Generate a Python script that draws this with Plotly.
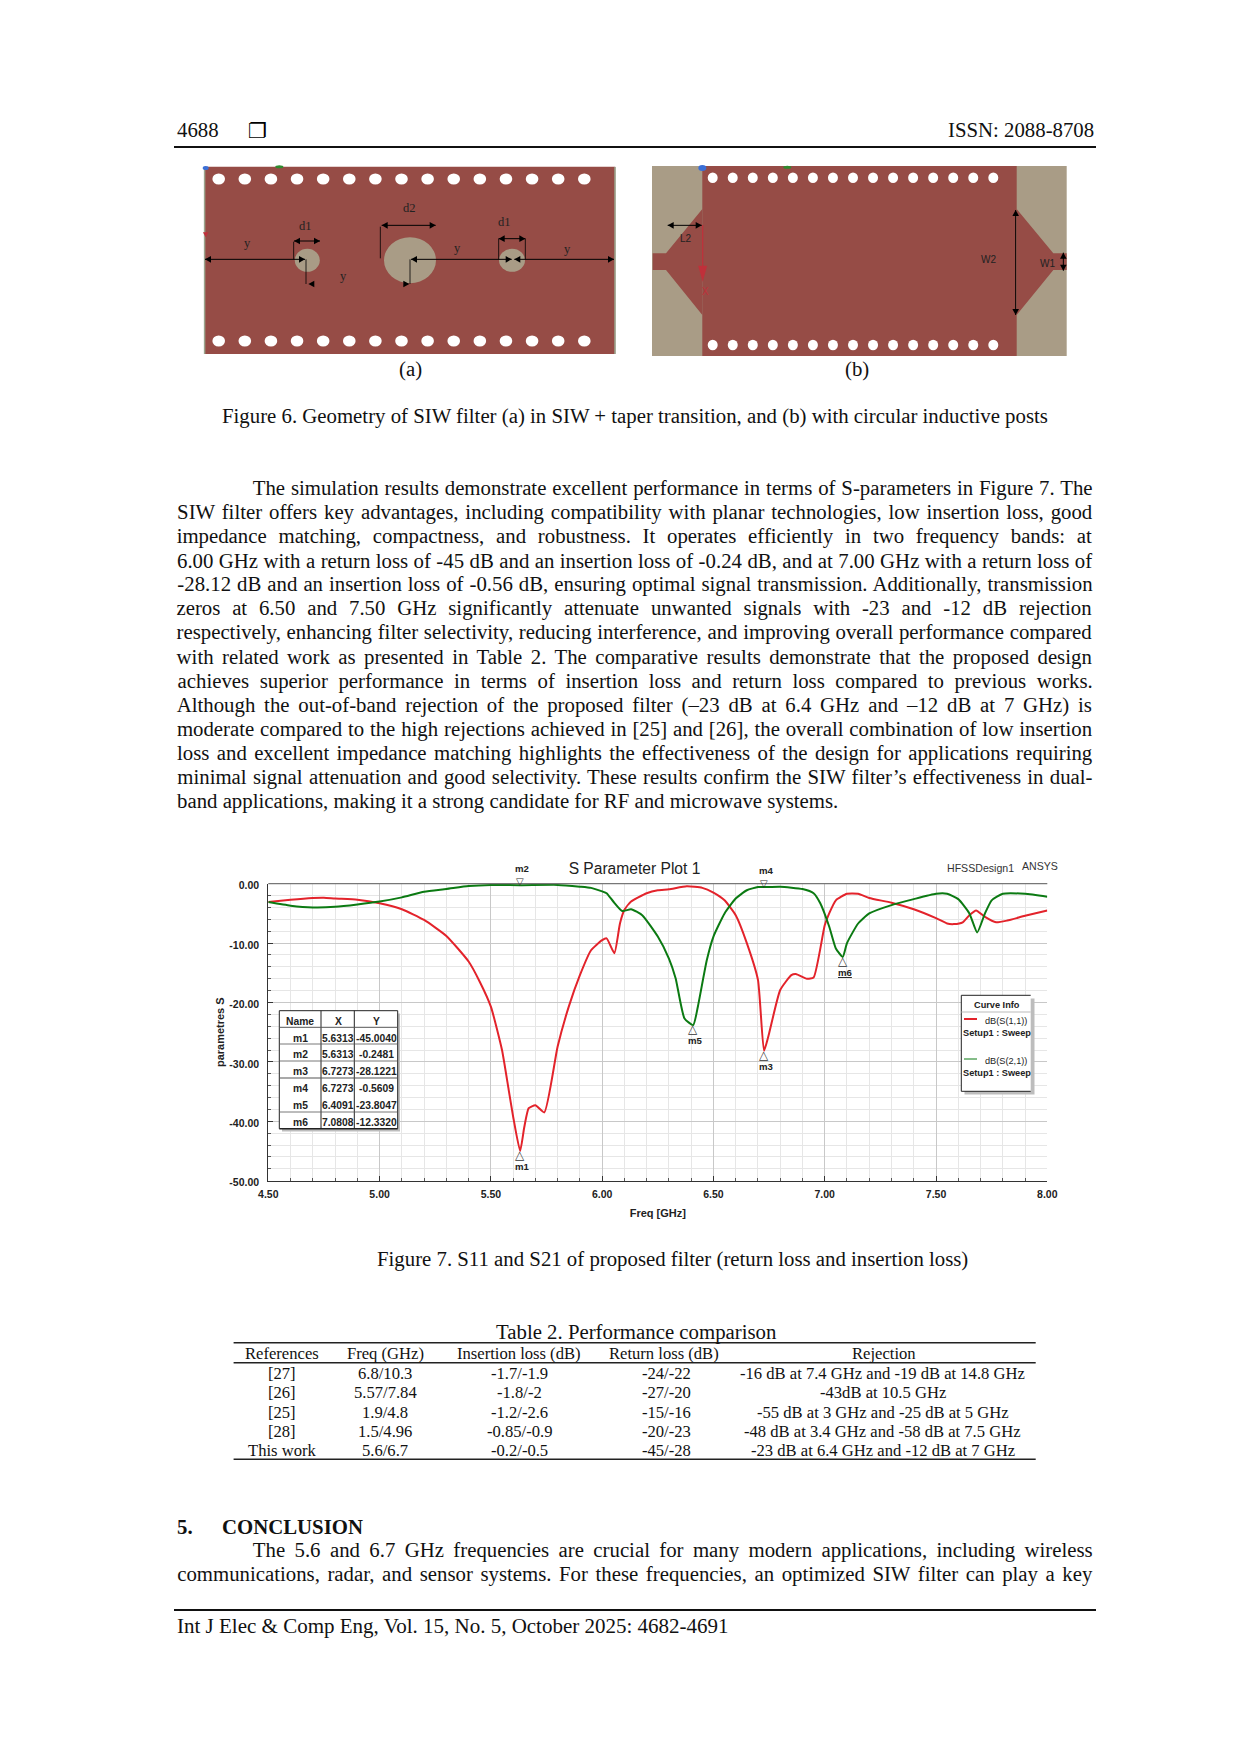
import json
import plotly.graph_objects as go

W = 1240
H = 1754

# curve values
freq_s11 = [4.5, 4.6, 4.7, 4.75, 4.8, 4.9, 5.0, 5.1, 5.2, 5.3, 5.4, 5.45, 5.5, 5.55, 5.58, 5.6, 5.6313, 5.65, 5.67,
            5.7, 5.74, 5.8, 5.85, 5.9, 5.95, 6.0, 6.02, 6.055, 6.08, 6.1, 6.13, 6.2, 6.25, 6.3, 6.38, 6.45, 6.5,
            6.55, 6.6, 6.65, 6.7, 6.7273, 6.75, 6.8, 6.85, 6.87, 6.92, 6.95, 7.0, 7.02, 7.05, 7.1, 7.15, 7.2, 7.3,
            7.4, 7.5, 7.55, 7.58, 7.62, 7.65, 7.68, 7.72, 7.77, 7.82, 7.9, 8.0]
s11 = [-3.1, -2.7, -2.4, -2.35, -2.5, -2.7, -3.3, -4.3, -6.1, -8.8, -13.1, -16.5, -20.7, -28.0, -34.7, -39.2, -45.0,
       -41.0, -37.8, -37.3, -38.5, -27.4, -20.7, -15.4, -11.2, -9.5, -9.2, -11.7, -6.7, -4.4, -3.0, -1.6, -1.1, -0.95,
       -0.45, -0.7, -1.5, -2.8, -5.3, -10.0, -16.2, -28.12, -25.2, -17.9, -15.4, -15.2, -16.0, -15.8, -7.0, -5.0,
       -2.8, -1.7, -1.7, -2.4, -3.2, -4.3, -5.8, -6.7, -6.8, -6.5, -5.3, -4.5, -5.6, -6.5, -6.2, -5.4, -4.5]
freq_s21 = [4.5, 4.6, 4.7, 4.8, 4.9, 5.0, 5.1, 5.2, 5.3, 5.4, 5.5, 5.6313, 5.8, 5.9, 5.95, 6.0, 6.02, 6.05, 6.09, 6.13,
            6.18, 6.25, 6.3, 6.33, 6.37, 6.4091, 6.43, 6.47, 6.5, 6.55, 6.6, 6.65, 6.7, 6.7273, 6.8, 6.9, 6.95, 6.98,
            7.02, 7.05, 7.0808, 7.1, 7.15, 7.2, 7.3, 7.4, 7.5, 7.55, 7.6, 7.65, 7.685, 7.72, 7.75, 7.8, 7.9, 8.0]
s21 = [-3.1, -3.7, -4.0, -3.9, -3.5, -3.0, -2.3, -1.35, -0.9, -0.4, -0.2, -0.25, -0.2, -0.5, -0.7, -1.3, -1.6, -3.0,
       -4.6, -4.3, -5.3, -8.9, -12.6, -15.9, -22.7, -23.8, -20.7, -12.9, -8.9, -5.0, -2.5, -1.1, -0.56, -0.56, -0.5,
       -0.9, -1.6, -3.3, -7.2, -10.9, -12.33, -10.0, -6.7, -5.0, -3.6, -2.6, -1.7, -1.7, -2.6, -5.0, -8.2, -5.0, -2.8,
       -1.7, -1.7, -2.2]

y_ticks = [0, -10, -20, -30, -40, -50]
y_tick_labels = ["0.00", "-10.00", "-20.00", "-30.00", "-40.00", "-50.00"]

# marker readout
marker_names = ["m1", "m2", "m3", "m4", "m5", "m6"]
marker_x = ["5.6313", "5.6313", "6.7273", "6.7273", "6.4091", "7.0808"]
marker_y = ["-45.0040", "-0.2481", "-28.1221", "-0.5609", "-23.8047", "-12.3320"]
marker_up = [False, True, False, True, False, False]

# performance table
table_title = "Table 2. Performance comparison"
table_head = ["References", "Freq (GHz)", "Insertion loss (dB)", "Return loss (dB)", "Rejection"]
table_refs = ["[27]", "[26]", "[25]", "[28]", "This work"]
table_freq = ["6.8/10.3", "5.57/7.84", "1.9/4.8", "1.5/4.96", "5.6/6.7"]
table_il = ["-1.7/-1.9", "-1.8/-2", "-1.2/-2.6", "-0.85/-0.9", "-0.2/-0.5"]
table_rl = ["-24/-22", "-27/-20", "-15/-16", "-20/-23", "-45/-28"]
table_rej = ["-16 dB at 7.4 GHz and -19 dB at 14.8 GHz", "-43dB at 10.5 GHz", "-55 dB at 3 GHz and -25 dB at 5 GHz",
             "-48 dB at 3.4 GHz and -58 dB at 7.5 GHz", "-23 dB at 6.4 GHz and -12 dB at 7 GHz"]

body_lines = [
    "The simulation results demonstrate excellent performance in terms of S-parameters in Figure 7. The",
    "SIW filter offers key advantages, including compatibility with planar technologies, low insertion loss, good",
    "impedance matching, compactness, and robustness. It operates efficiently in two frequency bands: at",
    "6.00 GHz with a return loss of -45 dB and an insertion loss of -0.24 dB, and at 7.00 GHz with a return loss of",
    "-28.12 dB and an insertion loss of -0.56 dB, ensuring optimal signal transmission. Additionally, transmission",
    "zeros at 6.50 and 7.50 GHz significantly attenuate unwanted signals with -23 and -12 dB rejection",
    "respectively, enhancing filter selectivity, reducing interference, and improving overall performance compared",
    "with related work as presented in Table 2. The comparative results demonstrate that the proposed design",
    "achieves superior performance in terms of insertion loss and return loss compared to previous works.",
    "Although the out-of-band rejection of the proposed filter (–23 dB at 6.4 GHz and –12 dB at 7 GHz) is",
    "moderate compared to the high rejections achieved in [25] and [26], the overall combination of low insertion",
    "loss and excellent impedance matching highlights the effectiveness of the design for applications requiring",
    "minimal signal attenuation and good selectivity. These results confirm the SIW filter’s effectiveness in dual-",
    "band applications, making it a strong candidate for RF and microwave systems.",
]
conclusion_lines = [
    "The 5.6 and 6.7 GHz frequencies are crucial for many modern applications, including wireless",
    "communications, radar, and sensor systems. For these frequencies, an optimized SIW filter can play a key",
]

SERIF = "Liberation Serif"
SANS = "Liberation Sans"
RED = "#E3232B"
GREEN = "#0B7A12"
COPPER = "#964C46"
SAND = "#A99C86"

shapes = []
annos = []
justify = {}


def px(x):
    return x / W


def py(y):
    return 1 - y / H


def text(x, y, s, size=20.8, font=SERIF, color="#111111", anchor="center", angle=0):
    annos.append(dict(x=px(x), y=py(y), xref="paper", yref="paper", text=s, showarrow=False, xanchor=anchor,
                      yanchor="middle", textangle=angle, font=dict(family=font, size=size, color=color),
                      borderpad=0, borderwidth=0))


def line(x0, y0, x1, y1, color="black", width=1):
    shapes.append(dict(type="line", x0=px(x0), y0=py(y0), x1=px(x1), y1=py(y1), xref="paper", yref="paper",
                       line=dict(color=color, width=width)))


def rect(x0, y0, x1, y1, fill, border=None, width=1):
    shapes.append(dict(type="rect", x0=px(x0), y0=py(y0), x1=px(x1), y1=py(y1), xref="paper", yref="paper",
                       fillcolor=fill, line=dict(color=border or fill, width=width if border else 0)))


def circle(cx, cy, rx, ry, fill):
    shapes.append(dict(type="circle", x0=px(cx - rx), y0=py(cy - ry), x1=px(cx + rx), y1=py(cy + ry), xref="paper",
                       yref="paper", fillcolor=fill, line=dict(width=0)))


def poly(points, fill):
    path = "M " + " L ".join("%.5f %.5f" % (px(a), py(b)) for a, b in points) + " Z"
    shapes.append(dict(type="path", path=path, xref="paper", yref="paper", fillcolor=fill, line=dict(width=0)))


def tip(x, y, dx, dy, color="black", size=6, ratio=0.55):
    # small arrow head, point at x,y looking along dx,dy
    poly([(x, y), (x - dx * size - dy * size * ratio, y - dy * size - dx * size * ratio),
          (x - dx * size + dy * size * ratio, y - dy * size + dx * size * ratio)], color)


def dim(x0, y0, x1, y1, color="black"):
    # dimension line with a head on both ends
    line(x0, y0, x1, y1, color)
    dx = (x1 > x0) - (x1 < x0)
    dy = (y1 > y0) - (y1 < y0)
    tip(x1, y1, dx, dy, color)
    tip(x0, y0, -dx, -dy, color)


def za(x, y):
    return 160 + x / 3, 100 + y / 3


def zb(x, y):
    return 630 + x / 3, 100 + y / 3


# page header / footer
text(177, 130, "4688", anchor="left")
text(257, 131, "❐", size=21, font="DejaVu Sans", color="black")
text(1094, 130, "ISSN: 2088-8708", anchor="right")
line(174, 147, 1096, 147, "#111111", 2)
line(174, 1610, 1096, 1610, "#111111", 2)
text(177, 1626, "Int J Elec &amp; Comp Eng, Vol. 15, No. 5, October 2025: 4682-4691", size=21, anchor="left")

# figure 6 (a)
rect(204.3, 166.7, 615.3, 354, COPPER)
line(204.6, 167, 204.6, 354, "#9AA58E", 1.5)
line(615, 167, 615, 354, "#9AA58E", 1.5)
for i in range(15):
    hx = 218.7 + i * (584.3 - 218.7) / 14
    circle(hx, 179, 6.3, 5.6, "white")
    circle(hx, 341, 6.3, 5.6, "white")
circle(307.3, 260.3, 12.5, 11.5, SAND)
circle(410, 260.3, 26, 23, SAND)
circle(512, 260.3, 13, 11.5, SAND)
circle(*za(137, 204), 3, 2, "#3B6FD6")
circle(*za(358, 200), 4, 1.5, "#2E8B2E")
tip(*za(137, 412), 0, 1, "#C0303A", 5)
for a, b in [((135, 478), (435, 478)), ((753, 478), (1055, 478)), ((1063, 478), (1362, 478)),
             ((402, 423), (480, 423)), ((665, 376), (827, 376)), ((1016, 416), (1096, 416))]:
    dim(*za(*a), *za(*b))
for a, b in [((401, 425), (401, 478)), ((661, 380), (661, 475)), ((438, 478), (438, 552)), ((750, 478), (750, 552)),
             ((1016, 416), (1016, 478)), ((1096, 416), (1096, 478))]:
    line(*za(*a), *za(*b), width=0.8)
tip(*za(445, 552), -1, 0)
tip(*za(748, 552), 1, 0)
for lx, ly, s in [(435, 378, "d1"), (747, 323, "d2"), (1033, 365, "d1"), (262, 430, "y"), (549, 527, "y"),
                  (891, 445, "y"), (1223, 447, "y")]:
    text(*za(lx, ly), s, size=12.5, color="#222222")

# figure 6 (b)
rect(652, 166, 1066.7, 356, SAND)
rect(702.3, 166, 1016.7, 356, COPPER)
poly([zb(217, 327), zb(108, 460), zb(68, 460), zb(68, 510), zb(108, 510), zb(217, 645)], COPPER)
poly([zb(1160, 327), zb(1270, 460), zb(1310, 460), zb(1310, 510), zb(1270, 510), zb(1160, 645)], COPPER)
for i in range(15):
    hx = 712.7 + i * (993.3 - 712.7) / 14
    circle(hx, 177.7, 5, 5.3, "white")
    circle(hx, 345, 5, 5.3, "white")
circle(*zb(217, 204), 4, 3, "#3B6FD6")
circle(*zb(472, 202), 4, 1.5, "#2E8B2E")
dim(*zb(113, 376), *zb(215, 376))
line(*zb(218, 375), *zb(218, 520), "#C0303A", 1.2)
tip(*zb(218, 545), 0, 1, "#C0303A", 16, 0.28)
dim(*zb(1157, 330), *zb(1157, 645))
dim(*zb(1300, 458), *zb(1300, 512))
for lx, ly, s in [(168, 415, "L2"), (1075, 478, "W2"), (1253, 490, "W1")]:
    text(*zb(lx, ly), s, size=10, font=SANS, color="#222222")
text(*zb(227, 575), "X", size=10, font=SANS, color="#C0303A")

text(410, 368.5, "(a)")
text(857.3, 368.5, "(b)")
text(635.2, 416, "Figure 6. Geometry of SIW filter (a) in SIW + taper transition, and (b) with circular inductive posts")


# justified paragraphs: browser stretches the word gaps to the column width, see post_script
def paragraph(lines, y_start, left=177.3, right=1092.5, indent=252.7):
    for i, s in enumerate(lines):
        x0 = indent if i == 0 else left
        y = y_start + i * 24.03
        if s.startswith("band applications"):
            text(x0, y, s, anchor="left")
        else:
            text((x0 + right) / 2, y, s)
            justify[len(annos) - 1] = right - x0


paragraph(body_lines, 488.3)
text(672.3, 1259.3, "Figure 7. S11 and S21 of proposed filter (return loss and insertion loss)")

# table 2
text(636, 1331.7, table_title)
line(233.6, 1342.7, 1035.7, 1342.7, "#222222", 1.6)
line(233.6, 1362.7, 1035.7, 1362.7, "#222222", 1.4)
line(233.6, 1459.3, 1035.7, 1459.3, "#222222", 1.6)
table_cols = [table_refs, table_freq, table_il, table_rl, table_rej]
col_x = [282.3, 385, 519.5, 666, 883]
head_x = [281.5, 385.5, 519, 663.5, 883.5]
row_y = [1373.3, 1392.7, 1412.7, 1431.7, 1450.7]
for cx, hx, head, col in zip(col_x, head_x, table_head, table_cols):
    text(hx, 1353.2, head, size=16.6)
    for ry, cell in zip(row_y, col):
        text(cx, ry, cell, size=16.6)

# section 5
text(177.3, 1526, "<b>5.</b>", anchor="left")
text(222.3, 1526, "<b>CONCLUSION</b>", anchor="left")
paragraph(conclusion_lines, 1549.7)

# chart furniture: marker table
rect(282, 1013.5, 400, 1131.5, "#BDBDBD")
rect(279.3, 1010.7, 397.7, 1128.7, "white")
line(279.3, 1010.7, 397.7, 1010.7, "#222222")
line(279.3, 1010.7, 279.3, 1128.7, "#222222")
line(279.3, 1128.7, 397.7, 1128.7, "#222222", 1.5)
line(397.7, 1010.7, 397.7, 1128.7, "#222222")
line(321, 1010.7, 321, 1128.7, "#222222")
line(354.3, 1010.7, 354.3, 1128.7, "#222222")
for ly, lw in [(1027.3, 1), (1044, 0.8), (1061, 0.8), (1078, 1.2), (1112, 0.8)]:
    line(279.3, ly, 397.7, ly, "#555555", lw)
text(300, 1021.3, "<b>Name</b>", size=10.3, font=SANS, color="#222222")
text(338, 1021.3, "<b>X</b>", size=10.3, font=SANS, color="#222222")
text(376, 1021.3, "<b>Y</b>", size=10.3, font=SANS, color="#222222")
marker_row_y = [1038, 1054.7, 1071.7, 1088.7, 1105.7, 1122.7]
for ry, name, mx, my in zip(marker_row_y, marker_names, marker_x, marker_y):
    text(300, ry, "<b>%s</b>" % name, size=10.3, font=SANS, color="#222222")
    text(338, ry, "<b>%s</b>" % mx, size=10.3, font=SANS, color="#222222")
    text(376, ry, "<b>%s</b>" % my, size=10.3, font=SANS, color="#222222")

# chart furniture: curve info box
rect(964.5, 998.5, 1034.5, 1094.5, "#BDBDBD")
rect(961.3, 995.3, 1030.7, 1091.3, "white")
line(961.3, 995.3, 1030.7, 995.3, "#222222")
line(961.3, 995.3, 961.3, 1091.3, "#222222")
line(961.3, 1091.3, 1030.7, 1091.3, "#222222")
line(961.3, 1012, 1030.7, 1012, "#BBBBBB")
text(997, 1005, "<b>Curve Info</b>", size=9.2, font=SANS, color="#222222")
line(964, 1019, 977, 1019, RED, 2)
text(1006, 1021, "dB(S(1,1))", size=9.2, font=SANS, color="#222222")
text(997, 1033, "<b>Setup1 : Sweep</b>", size=9.2, font=SANS, color="#222222")
line(964, 1059, 977, 1059, GREEN, 1)
text(1006, 1061, "dB(S(2,1))", size=9.2, font=SANS, color="#222222")
text(997, 1073, "<b>Setup1 : Sweep</b>", size=9.2, font=SANS, color="#222222")

text(980, 867.7, "HFSSDesign1", size=10.6, font=SANS, color="#333333")
text(1040, 865.7, "ANSYS", size=10.6, font=SANS, color="#333333")
line(268.3, 883.7, 1047.3, 883.7, "#777777", 1.2)

# markers on the curves
for name, mx, my, up in zip(marker_names, marker_x, marker_y, marker_up):
    shift = 4 if up else -4
    label_shift = 17 if up else -15.5
    label = "<b>%s</b>" % name
    if name == "m6":
        label = '<b><span style="text-decoration:underline">m6</span></b>'
    annos.append(dict(x=float(mx), y=float(my), xref="x", yref="y", text="▽" if up else "△", showarrow=False,
                      yshift=shift, font=dict(family="DejaVu Sans", size=10 if up else 12, color="#333333")))
    annos.append(dict(x=float(mx), y=float(my), xref="x", yref="y", text=label, showarrow=False, xshift=2,
                      yshift=label_shift, font=dict(family=SANS, size=9.6, color="#222222")))

fig = go.Figure()
fig.add_trace(go.Scatter(x=freq_s11, y=s11, mode="lines", name="dB(S(1,1))",
                         line=dict(color=RED, width=2, shape="spline", smoothing=0.5)))
fig.add_trace(go.Scatter(x=freq_s21, y=s21, mode="lines", name="dB(S(2,1))",
                         line=dict(color=GREEN, width=2, shape="spline", smoothing=0.5)))

tick_font = dict(family=SANS, size=10.5, color="#222222", weight="bold")
title_font = dict(family=SANS, size=11, color="#222222", weight="bold")
fig.update_layout(
    width=W, height=H, margin=dict(l=0, r=0, t=0, b=0, autoexpand=False), showlegend=False, paper_bgcolor="white",
    plot_bgcolor="white", shapes=shapes, annotations=annos,
    title=dict(text="S Parameter Plot 1", x=634.5 / W, y=py(869), xanchor="center", yanchor="middle",
               xref="paper", yref="paper", font=dict(family=SANS, size=15.6, color="#222222")),
    xaxis=dict(domain=[px(268.3), px(1047.3)], range=[4.5, 8], tick0=4.5, dtick=0.5, tickformat=".2f",
               showline=True, linecolor="#333333", linewidth=1.2, gridcolor="#C8C8C8", gridwidth=1, zeroline=False,
               ticks="inside", ticklen=5, tickcolor="#333333", tickfont=tick_font, ticklabelstandoff=4,
               title=dict(text="Freq [GHz]", font=title_font, standoff=9),
               minor=dict(dtick=0.1, tick0=4.5, showgrid=True, gridcolor="#E6E6E6", ticks="inside", ticklen=3,
                          tickcolor="#555555")),
    yaxis=dict(domain=[py(1180.7), py(883.7)], range=[-50, 0], tickmode="array", tickvals=y_ticks,
               ticktext=y_tick_labels, ticklabelstandoff=6, ticklabelshift=2,
               showline=True, linecolor="#333333", linewidth=1.2, gridcolor="#C8C8C8", gridwidth=1, zeroline=False,
               ticks="inside", ticklen=5, tickcolor="#333333", tickfont=tick_font,
               title=dict(text="parametres S", font=title_font, standoff=2),
               minor=dict(dtick=2, tick0=0, showgrid=True, gridcolor="#E6E6E6", ticks="inside", ticklen=3,
                          tickcolor="#555555")),
)

post = """
document.body.style.margin = '0';
document.documentElement.style.overflow = 'hidden';
var widths = %s;
var gd = document.getElementById('{plot_id}');
Object.keys(widths).forEach(function (i) {
    var t = gd.querySelector('.annotation[data-index="' + i + '"] text.annotation-text');
    if (!t) return;
    var gaps = t.textContent.split(' ').length - 1;
    t.style.wordSpacing = ((widths[i] - t.getComputedTextLength()) / gaps) + 'px';
});
""" % json.dumps(justify)

fig.write_html("out.html", post_script=post, config=dict(displayModeBar=False))
